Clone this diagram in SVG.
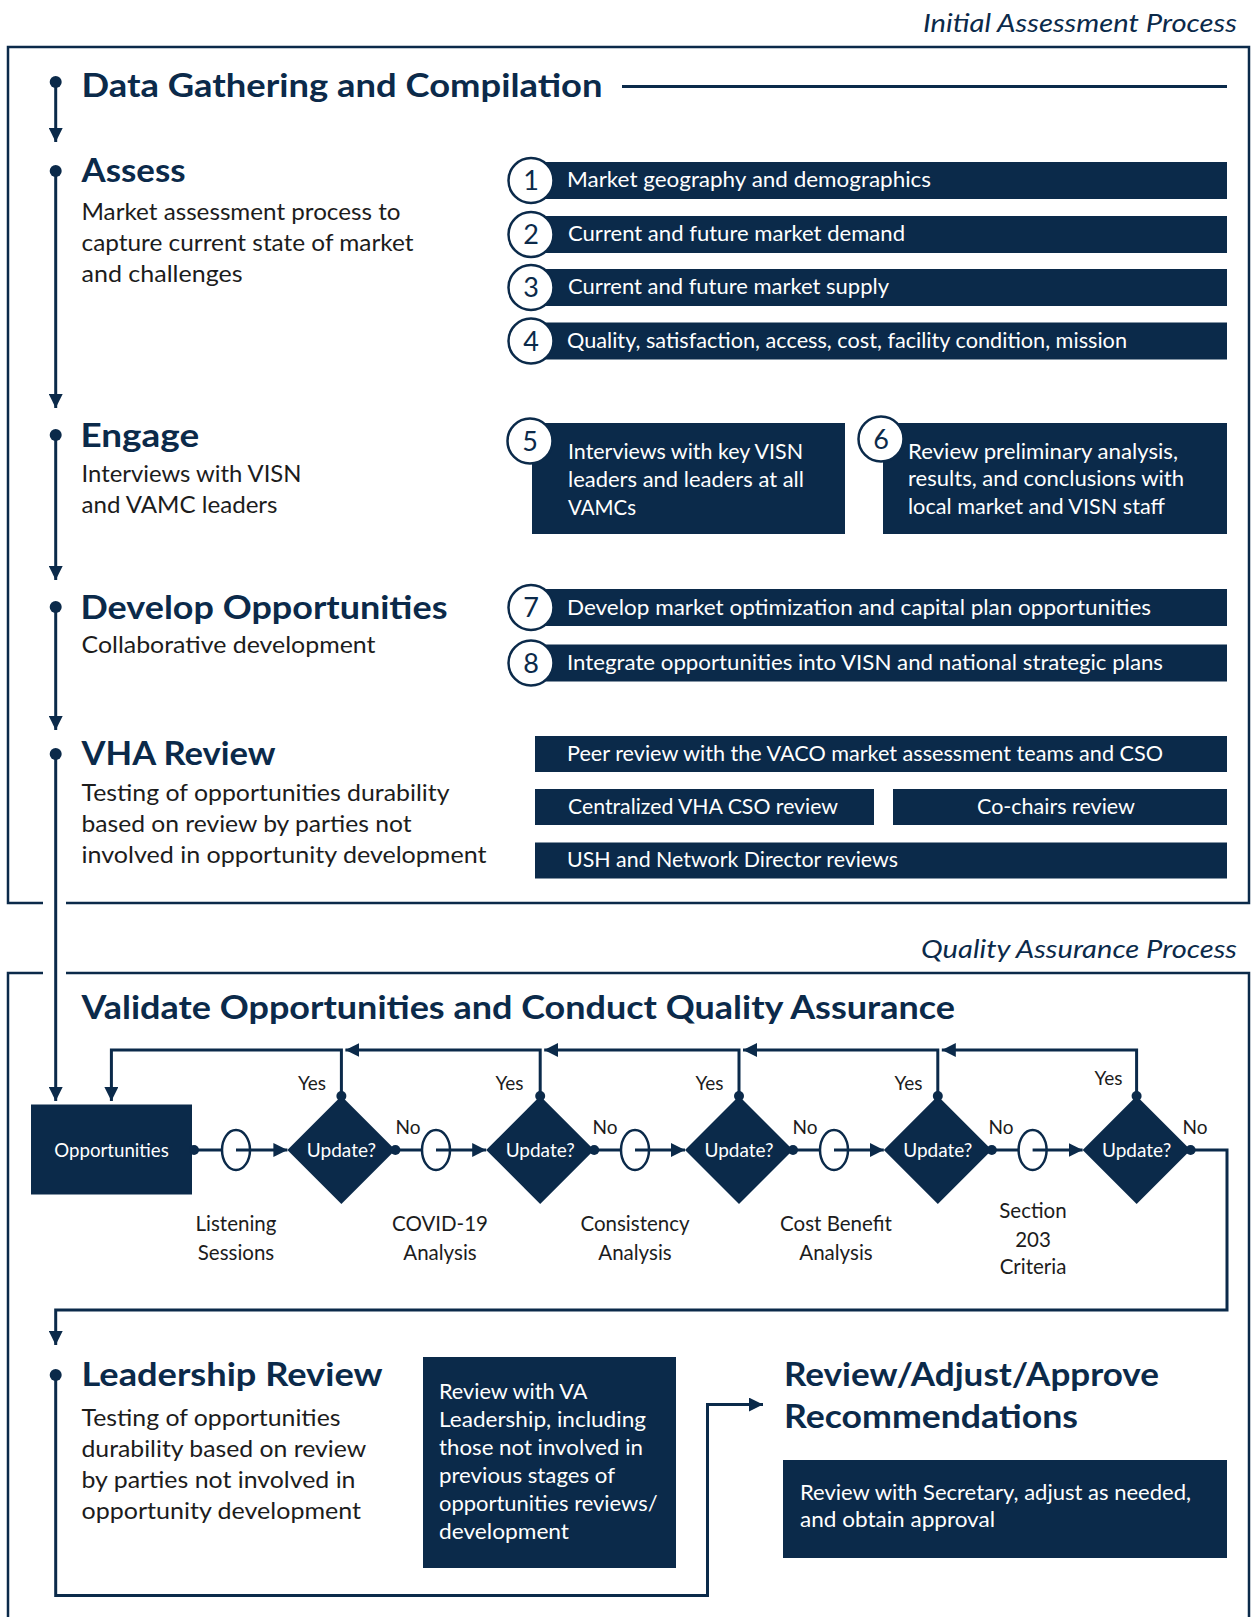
<svg xmlns="http://www.w3.org/2000/svg" width="1252" height="1617" viewBox="0 0 1252 1617">
  <style>
    .frame { fill: none; stroke: #0b2a4a; stroke-width: 2.5; }
    .ln { fill: none; stroke: #0b2a4a; stroke-width: 3; }
    .fill { fill: #0b2a4a; }
    .num { fill: #ffffff; stroke: #0b2a4a; stroke-width: 2.5; }
    .oval { fill: #ffffff; stroke: #0b2a4a; stroke-width: 2.5; }
    text { font-family: Lato, "Open Sans", "Liberation Sans", sans-serif; }
    .ttl { font-size: 26px; font-style: italic; fill: #0b2a4a; }
    .h { font-size: 33px; font-weight: bold; fill: #0b2a4a; }
    .b { font-size: 23px; fill: #1c1c1c; }
    .w { font-size: 21px; fill: #ffffff; }
    .d { font-size: 27px; fill: #0b2a4a; text-anchor: middle; }
    .lb { font-size: 20.5px; fill: #1c1c1c; text-anchor: middle; }
    .yn { font-size: 19px; fill: #1c1c1c; text-anchor: middle; }
    .up { font-size: 19px; fill: #ffffff; text-anchor: middle; }
  </style>
  <defs>
    <marker id="arr" viewBox="0 0 10 10" refX="10" refY="5" markerWidth="14" markerHeight="14" markerUnits="userSpaceOnUse" orient="auto">
      <path d="M0,0 L10,5 L0,10 z" fill="#0b2a4a"/>
    </marker>
  </defs>

  <rect x="0" y="0" width="1252" height="1617" fill="#ffffff"/>

  <!-- Section frames -->
  <g id="frames">
    <text class="ttl" x="1237" y="32" text-anchor="end" textLength="314" lengthAdjust="spacingAndGlyphs">Initial Assessment Process</text>
    <path class="frame" d="M43,903 H8 V47 H1249 V903 H66"/>
    <text class="ttl" x="1237" y="958" text-anchor="end" textLength="316" lengthAdjust="spacingAndGlyphs">Quality Assurance Process</text>
    <path class="frame" d="M43,973 H8 V1620 M66,973 H1249 V1620"/>
  </g>

  <!-- Connectors -->
  <g id="connectors">
    <!-- timeline -->
    <line class="ln" x1="55.7" y1="82" x2="55.7" y2="142" marker-end="url(#arr)"/>
    <line class="ln" x1="55.7" y1="171" x2="55.7" y2="408" marker-end="url(#arr)"/>
    <line class="ln" x1="55.7" y1="435" x2="55.7" y2="580" marker-end="url(#arr)"/>
    <line class="ln" x1="55.7" y1="607" x2="55.7" y2="730" marker-end="url(#arr)"/>
    <line class="ln" x1="55.7" y1="754" x2="55.7" y2="1101" marker-end="url(#arr)"/>
    <circle class="fill" cx="55.7" cy="82" r="6"/>
    <circle class="fill" cx="55.7" cy="171" r="6"/>
    <circle class="fill" cx="55.7" cy="435" r="6"/>
    <circle class="fill" cx="55.7" cy="607" r="6"/>
    <circle class="fill" cx="55.7" cy="754" r="6"/>
    <line class="ln" x1="622" y1="86.5" x2="1227" y2="86.5"/>

    <!-- QA flow: forward path -->
    <line class="ln" x1="194" y1="1150" x2="222" y2="1150"/>
    <line class="ln" x1="236" y1="1150" x2="287.4" y2="1150" marker-end="url(#arr)"/>
    <line class="ln" x1="395.4" y1="1150" x2="422" y2="1150"/>
    <line class="ln" x1="436" y1="1150" x2="486.2" y2="1150" marker-end="url(#arr)"/>
    <line class="ln" x1="594.2" y1="1150" x2="621" y2="1150"/>
    <line class="ln" x1="635" y1="1150" x2="685" y2="1150" marker-end="url(#arr)"/>
    <line class="ln" x1="793" y1="1150" x2="820" y2="1150"/>
    <line class="ln" x1="834" y1="1150" x2="883.8" y2="1150" marker-end="url(#arr)"/>
    <line class="ln" x1="991.8" y1="1150" x2="1018.6" y2="1150"/>
    <line class="ln" x1="1032.6" y1="1150" x2="1082.6" y2="1150" marker-end="url(#arr)"/>

    <!-- QA flow: "Yes" loops back -->
    <path class="ln" d="M341.4,1096 V1050 H111.4 V1101" marker-end="url(#arr)"/>
    <path class="ln" d="M540.2,1096 V1050 H345.4" marker-end="url(#arr)"/>
    <path class="ln" d="M739,1096 V1050 H544.2" marker-end="url(#arr)"/>
    <path class="ln" d="M937.8,1096 V1050 H743" marker-end="url(#arr)"/>
    <path class="ln" d="M1136.6,1096 V1050 H941.8" marker-end="url(#arr)"/>

    <!-- QA flow: final "No" down to leadership review -->
    <path class="ln" d="M1190.6,1150 H1227 V1310 H55.7 V1345" marker-end="url(#arr)"/>

    <!-- Leadership review to final approval -->
    <path class="ln" d="M55.7,1375 V1595.5 H707.5 V1404.6 H763" marker-end="url(#arr)"/>
    <circle class="fill" cx="55.7" cy="1375" r="6"/>
  </g>

  <!-- Data gathering -->
  <g id="data-gathering">
    <text class="h" x="81.5" y="97" textLength="521" lengthAdjust="spacingAndGlyphs">Data Gathering and Compilation</text>
  </g>

  <!-- Assess -->
  <g id="assess">
    <text class="h" x="81.5" y="181.5" textLength="104" lengthAdjust="spacingAndGlyphs">Assess</text>
    <text class="b" x="81.5" y="219.7" textLength="319" lengthAdjust="spacingAndGlyphs">Market assessment process to</text>
    <text class="b" x="81.5" y="250.6" textLength="332" lengthAdjust="spacingAndGlyphs">capture current state of market</text>
    <text class="b" x="81.5" y="281.5" textLength="161" lengthAdjust="spacingAndGlyphs">and challenges</text>
  </g>
  <g id="step-1">
    <rect class="fill" x="531" y="162" width="696" height="37"/>
    <circle class="num" cx="531" cy="180.5" r="22.5"/>
    <text class="d" x="531" y="190">1</text>
    <text class="w" x="567" y="187" textLength="364" lengthAdjust="spacingAndGlyphs">Market geography and demographics</text>
  </g>
  <g id="step-2">
    <rect class="fill" x="531" y="216" width="696" height="37"/>
    <circle class="num" cx="531" cy="234.5" r="22.5"/>
    <text class="d" x="531" y="244">2</text>
    <text class="w" x="568" y="241" textLength="337" lengthAdjust="spacingAndGlyphs">Current and future market demand</text>
  </g>
  <g id="step-3">
    <rect class="fill" x="531" y="269" width="696" height="37"/>
    <circle class="num" cx="531" cy="287.5" r="22.5"/>
    <text class="d" x="531" y="297">3</text>
    <text class="w" x="568" y="294" textLength="321" lengthAdjust="spacingAndGlyphs">Current and future market supply</text>
  </g>
  <g id="step-4">
    <rect class="fill" x="531" y="322.5" width="696" height="37"/>
    <circle class="num" cx="531" cy="341" r="22.5"/>
    <text class="d" x="531" y="350.5">4</text>
    <text class="w" x="567" y="347.5" textLength="560" lengthAdjust="spacingAndGlyphs">Quality, satisfaction, access, cost, facility condition, mission</text>
  </g>

  <!-- Engage -->
  <g id="engage">
    <text class="h" x="80.5" y="446.5" textLength="118.6" lengthAdjust="spacingAndGlyphs">Engage</text>
    <text class="b" x="81.5" y="481.6" textLength="220" lengthAdjust="spacingAndGlyphs">Interviews with VISN</text>
    <text class="b" x="81.5" y="512.6" textLength="196" lengthAdjust="spacingAndGlyphs">and VAMC leaders</text>
  </g>
  <g id="step-5">
    <rect class="fill" x="532" y="423" width="313" height="111"/>
    <circle class="num" cx="530" cy="441" r="22.5"/>
    <text class="d" x="530" y="450.5">5</text>
    <text class="w" x="568" y="459" textLength="235" lengthAdjust="spacingAndGlyphs">Interviews with key VISN</text>
    <text class="w" x="568" y="487" textLength="236" lengthAdjust="spacingAndGlyphs">leaders and leaders at all</text>
    <text class="w" x="568" y="514.6" textLength="68" lengthAdjust="spacingAndGlyphs">VAMCs</text>
  </g>
  <g id="step-6">
    <rect class="fill" x="883" y="423" width="344" height="111"/>
    <circle class="num" cx="881" cy="439" r="22.5"/>
    <text class="d" x="881" y="448.5">6</text>
    <text class="w" x="908" y="459" textLength="270" lengthAdjust="spacingAndGlyphs">Review preliminary analysis,</text>
    <text class="w" x="908" y="485.7" textLength="276" lengthAdjust="spacingAndGlyphs">results, and conclusions with</text>
    <text class="w" x="908" y="513.6" textLength="257" lengthAdjust="spacingAndGlyphs">local market and VISN staff</text>
  </g>

  <!-- Develop opportunities -->
  <g id="develop">
    <text class="h" x="80.5" y="618.8" textLength="367" lengthAdjust="spacingAndGlyphs">Develop Opportunities</text>
    <text class="b" x="81.5" y="652.8" textLength="294" lengthAdjust="spacingAndGlyphs">Collaborative development</text>
  </g>
  <g id="step-7">
    <rect class="fill" x="531" y="589" width="696" height="37"/>
    <circle class="num" cx="531" cy="607.5" r="22.5"/>
    <text class="d" x="531" y="617">7</text>
    <text class="w" x="567" y="614.5" textLength="584" lengthAdjust="spacingAndGlyphs">Develop market optimization and capital plan opportunities</text>
  </g>
  <g id="step-8">
    <rect class="fill" x="531" y="644.5" width="696" height="37"/>
    <circle class="num" cx="531" cy="663" r="22.5"/>
    <text class="d" x="531" y="672.5">8</text>
    <text class="w" x="567" y="670" textLength="596" lengthAdjust="spacingAndGlyphs">Integrate opportunities into VISN and national strategic plans</text>
  </g>

  <!-- VHA review -->
  <g id="vha-review">
    <text class="h" x="81.5" y="765" textLength="194" lengthAdjust="spacingAndGlyphs">VHA Review</text>
    <text class="b" x="81.5" y="801.3" textLength="368" lengthAdjust="spacingAndGlyphs">Testing of opportunities durability</text>
    <text class="b" x="81.5" y="832.3" textLength="330" lengthAdjust="spacingAndGlyphs">based on review by parties not</text>
    <text class="b" x="81.5" y="863.2" textLength="405" lengthAdjust="spacingAndGlyphs">involved in opportunity development</text>
  </g>
  <g id="peer-review">
    <rect class="fill" x="535" y="736" width="692" height="36"/>
    <text class="w" x="567" y="761" textLength="596" lengthAdjust="spacingAndGlyphs">Peer review with the VACO market assessment teams and CSO</text>
  </g>
  <g id="cso-review">
    <rect class="fill" x="535" y="789" width="339" height="36"/>
    <text class="w" x="568" y="813.7" textLength="270" lengthAdjust="spacingAndGlyphs">Centralized VHA CSO review</text>
  </g>
  <g id="cochairs-review">
    <rect class="fill" x="893" y="789" width="334" height="36"/>
    <text class="w" x="1056" y="813.7" text-anchor="middle" textLength="158" lengthAdjust="spacingAndGlyphs">Co-chairs review</text>
  </g>
  <g id="ush-review">
    <rect class="fill" x="535" y="842.5" width="692" height="36"/>
    <text class="w" x="567" y="867" textLength="331" lengthAdjust="spacingAndGlyphs">USH and Network Director reviews</text>
  </g>

  <!-- Validate opportunities -->
  <g id="validate">
    <text class="h" x="81.5" y="1019" textLength="873.5" lengthAdjust="spacingAndGlyphs">Validate Opportunities and Conduct Quality Assurance</text>
  </g>
  <g id="opportunities">
    <rect class="fill" x="31" y="1104.5" width="161" height="90"/>
    <text class="up" x="111.5" y="1157" font-size="18.5" textLength="114.5" lengthAdjust="spacingAndGlyphs">Opportunities</text>
    <circle class="fill" cx="194" cy="1150" r="5"/>
  </g>

  <!-- Review checkpoints -->
  <g id="listening-sessions">
    <ellipse class="oval" cx="236" cy="1150" rx="14" ry="20"/>
    <line class="ln" x1="236" y1="1150" x2="250" y2="1150"/>
    <text class="lb" x="236" y="1231">Listening</text>
    <text class="lb" x="236" y="1260">Sessions</text>
  </g>
  <g id="decision-1">
    <path class="fill" d="M341.4,1096 L395.4,1150 L341.4,1204 L287.4,1150 z"/>
    <circle class="fill" cx="341.4" cy="1096" r="5"/>
    <circle class="fill" cx="395.4" cy="1150" r="5"/>
    <text class="up" x="341.4" y="1157">Update?</text>
    <text class="yn" x="312" y="1090">Yes</text>
    <text class="yn" x="408" y="1134">No</text>
  </g>
  <g id="covid-analysis">
    <ellipse class="oval" cx="436" cy="1150" rx="14" ry="20"/>
    <line class="ln" x1="436" y1="1150" x2="450" y2="1150"/>
    <text class="lb" x="440" y="1231">COVID-19</text>
    <text class="lb" x="440" y="1260">Analysis</text>
  </g>
  <g id="decision-2">
    <path class="fill" d="M540.2,1096 L594.2,1150 L540.2,1204 L486.2,1150 z"/>
    <circle class="fill" cx="540.2" cy="1096" r="5"/>
    <circle class="fill" cx="594.2" cy="1150" r="5"/>
    <text class="up" x="540.2" y="1157">Update?</text>
    <text class="yn" x="509.5" y="1090">Yes</text>
    <text class="yn" x="605" y="1134">No</text>
  </g>
  <g id="consistency-analysis">
    <ellipse class="oval" cx="635" cy="1150" rx="14" ry="20"/>
    <line class="ln" x1="635" y1="1150" x2="649" y2="1150"/>
    <text class="lb" x="635" y="1231">Consistency</text>
    <text class="lb" x="635" y="1260">Analysis</text>
  </g>
  <g id="decision-3">
    <path class="fill" d="M739,1096 L793,1150 L739,1204 L685,1150 z"/>
    <circle class="fill" cx="739" cy="1096" r="5"/>
    <circle class="fill" cx="793" cy="1150" r="5"/>
    <text class="up" x="739" y="1157">Update?</text>
    <text class="yn" x="709.5" y="1090">Yes</text>
    <text class="yn" x="805" y="1134">No</text>
  </g>
  <g id="cost-benefit-analysis">
    <ellipse class="oval" cx="834" cy="1150" rx="14" ry="20"/>
    <line class="ln" x1="834" y1="1150" x2="848" y2="1150"/>
    <text class="lb" x="836" y="1231">Cost Benefit</text>
    <text class="lb" x="836" y="1260">Analysis</text>
  </g>
  <g id="decision-4">
    <path class="fill" d="M937.8,1096 L991.8,1150 L937.8,1204 L883.8,1150 z"/>
    <circle class="fill" cx="937.8" cy="1096" r="5"/>
    <circle class="fill" cx="991.8" cy="1150" r="5"/>
    <text class="up" x="937.8" y="1157">Update?</text>
    <text class="yn" x="908.5" y="1090">Yes</text>
    <text class="yn" x="1001" y="1134">No</text>
  </g>
  <g id="section-203-criteria">
    <ellipse class="oval" cx="1032.6" cy="1150" rx="14" ry="20"/>
    <line class="ln" x1="1032.6" y1="1150" x2="1046.6" y2="1150"/>
    <text class="lb" x="1033" y="1218">Section</text>
    <text class="lb" x="1033" y="1247">203</text>
    <text class="lb" x="1033" y="1274">Criteria</text>
  </g>
  <g id="decision-5">
    <path class="fill" d="M1136.6,1096 L1190.6,1150 L1136.6,1204 L1082.6,1150 z"/>
    <circle class="fill" cx="1136.6" cy="1096" r="5"/>
    <circle class="fill" cx="1190.6" cy="1150" r="5"/>
    <text class="up" x="1136.6" y="1157">Update?</text>
    <text class="yn" x="1108.5" y="1085">Yes</text>
    <text class="yn" x="1195" y="1134">No</text>
  </g>

  <!-- Leadership review -->
  <g id="leadership-review">
    <text class="h" x="81.5" y="1386" textLength="301" lengthAdjust="spacingAndGlyphs">Leadership Review</text>
    <text class="b" x="81.5" y="1426.3" textLength="259" lengthAdjust="spacingAndGlyphs">Testing of opportunities</text>
    <text class="b" x="81.5" y="1457.2" textLength="284.6" lengthAdjust="spacingAndGlyphs">durability based on review</text>
    <text class="b" x="81.5" y="1488.1" textLength="274" lengthAdjust="spacingAndGlyphs">by parties not involved in</text>
    <text class="b" x="81.5" y="1519.1" textLength="279.5" lengthAdjust="spacingAndGlyphs">opportunity development</text>
  </g>
  <g id="va-leadership">
    <rect class="fill" x="423" y="1357" width="253" height="211"/>
    <text class="w" x="439" y="1398.5" textLength="148.5" lengthAdjust="spacingAndGlyphs">Review with VA</text>
    <text class="w" x="439" y="1427" textLength="207" lengthAdjust="spacingAndGlyphs">Leadership, including</text>
    <text class="w" x="439" y="1455" textLength="204" lengthAdjust="spacingAndGlyphs">those not involved in</text>
    <text class="w" x="439" y="1483" textLength="176" lengthAdjust="spacingAndGlyphs">previous stages of</text>
    <text class="w" x="439" y="1511" textLength="218.6" lengthAdjust="spacingAndGlyphs">opportunities reviews/</text>
    <text class="w" x="439" y="1539" textLength="130" lengthAdjust="spacingAndGlyphs">development</text>
  </g>

  <!-- Final approval -->
  <g id="approve-recommendations">
    <text class="h" x="784" y="1386" textLength="375" lengthAdjust="spacingAndGlyphs">Review/Adjust/Approve</text>
    <text class="h" x="784" y="1428" textLength="294" lengthAdjust="spacingAndGlyphs">Recommendations</text>
  </g>
  <g id="secretary-review">
    <rect class="fill" x="783" y="1460" width="444" height="98"/>
    <text class="w" x="800" y="1499.5" textLength="391" lengthAdjust="spacingAndGlyphs">Review with Secretary, adjust as needed,</text>
    <text class="w" x="800" y="1527" textLength="195" lengthAdjust="spacingAndGlyphs">and obtain approval</text>
  </g>
</svg>
